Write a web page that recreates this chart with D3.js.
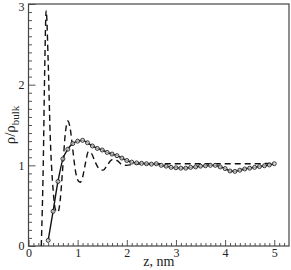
<!DOCTYPE html>
<html>
<head>
<meta charset="utf-8">
<script src="https://cdn.jsdelivr.net/npm/d3@7"></script>
<style>
  body { margin: 0; background: #fff; }
</style>
</head>
<body>
<div id="chart"></div>
<script>
// dashed profile
const dashZ   = [0.26, 0.30, 0.33, 0.36, 0.40, 0.44, 0.50, 0.55, 0.60, 0.65, 0.70, 0.75, 0.80, 0.85, 0.90, 0.95, 1.00, 1.05, 1.10, 1.15, 1.22, 1.28, 1.35, 1.45, 1.52, 1.60, 1.70, 1.80, 1.90, 2.00, 2.10, 2.30, 2.60, 3.00, 3.50, 4.00, 4.50, 4.95];
const dashRho = [0.00, 1.00, 2.20, 2.92, 2.30, 1.40, 0.70, 0.45, 0.42, 0.60, 1.00, 1.40, 1.55, 1.45, 1.20, 0.95, 0.82, 0.79, 0.85, 1.00, 1.17, 1.15, 1.05, 0.95, 0.94, 1.00, 1.07, 1.06, 1.01, 1.00, 1.01, 1.02, 1.02, 1.02, 1.02, 1.02, 1.02, 1.025];

// solid profile with markers
const solidZ   = [0.4, 0.5, 0.6, 0.7, 0.8, 0.9, 1.0, 1.1, 1.2, 1.3, 1.4, 1.5, 1.6, 1.7, 1.8, 1.9, 2.0, 2.1, 2.2, 2.3, 2.4, 2.5, 2.6, 2.7, 2.8, 2.9, 3.0, 3.1, 3.2, 3.3, 3.4, 3.5, 3.6, 3.7, 3.8, 3.9, 4.0, 4.1, 4.2, 4.3, 4.4, 4.5, 4.6, 4.7, 4.8, 4.9, 5.0];
const solidRho = [0.07, 0.43, 0.80, 1.08, 1.20, 1.27, 1.30, 1.31, 1.28, 1.24, 1.21, 1.19, 1.16, 1.14, 1.12, 1.09, 1.06, 1.04, 1.03, 1.025, 1.02, 1.015, 1.02, 1.0, 0.99, 0.975, 0.97, 0.965, 0.965, 0.975, 0.98, 0.99, 0.995, 1.0, 1.0, 0.98, 0.96, 0.93, 0.925, 0.94, 0.955, 0.965, 0.975, 0.985, 0.995, 1.005, 1.02];

const xMajor = [0, 1, 2, 3, 4, 5];
const yMajor = [0, 1, 2, 3];

const serif = "'Liberation Serif', 'Times New Roman', 'DejaVu Serif', serif";

const width = 291, height = 270;
const margin = {left: 28.5, right: 2, top: 4, bottom: 24};

const x = d3.scaleLinear().domain([0, 5.3]).range([margin.left, width - margin.right]);
const y = d3.scaleLinear().domain([0, 3]).range([height - margin.bottom, margin.top]);

const svg = d3.select("#chart").append("svg")
    .attr("width", width)
    .attr("height", height);

// minor ticks
const xMinor = d3.range(0, 53).map(d => d / 10).filter(d => !xMajor.includes(d));
const yMinor = d3.range(0, 30).map(d => d / 10).filter(d => !yMajor.includes(d));

const xAxisMinor = d3.axisBottom(x).tickValues(xMinor).tickSize(-3).tickFormat("");
const xAxis = d3.axisBottom(x).tickValues(xMajor).tickSize(-6).tickPadding(4).tickFormat(d3.format("d"));
const yAxisMinor = d3.axisLeft(y).tickValues(yMinor).tickSize(-3.5).tickFormat("");
const yAxis = d3.axisLeft(y).tickValues(yMajor).tickSize(-7).tickPadding(4).tickFormat(d3.format("d"));

function styleAxis(g) {
  g.attr("font-family", serif);
  g.select(".domain").remove();
  g.selectAll("line").attr("stroke", "#555");
  g.selectAll("text").attr("font-size", 12).attr("fill", "#222");
}

svg.append("g").attr("transform", `translate(0,${y(0)})`).call(xAxisMinor).call(styleAxis);
svg.append("g").attr("transform", `translate(0,${y(0)})`).call(xAxis).call(styleAxis)
  .selectAll("text").attr("dy", "0.6em");
svg.append("g").attr("transform", `translate(${x(0)},0)`).call(yAxisMinor).call(styleAxis);
svg.append("g").attr("transform", `translate(${x(0)},0)`).call(yAxis).call(styleAxis)
  .selectAll("text").attr("dy", (d, i) => d === 3 ? "0.55em" : "0.32em");

// frame
svg.append("rect")
    .attr("x", x(0))
    .attr("y", y(3))
    .attr("width", x(5.3) - x(0))
    .attr("height", y(0) - y(3))
    .attr("fill", "none")
    .attr("stroke", "#444")
    .attr("stroke-width", 1.2);

svg.append("clipPath").attr("id", "clip").append("rect")
    .attr("x", x(0)).attr("y", y(3))
    .attr("width", x(5.3) - x(0)).attr("height", y(0) - y(3));

const line = d3.line().x(d => x(d[0])).y(d => y(d[1])).curve(d3.curveMonotoneX);

const dashData = dashZ.map((z, i) => [z, dashRho[i]]);
const solidData = solidZ.map((z, i) => [z, solidRho[i]]);

svg.append("path")
    .datum(dashData)
    .attr("clip-path", "url(#clip)")
    .attr("d", line)
    .attr("fill", "none")
    .attr("stroke", "#111")
    .attr("stroke-width", 1.4)
    .attr("stroke-dasharray", "6,4");

svg.append("path")
    .datum(solidData)
    .attr("d", line)
    .attr("fill", "none")
    .attr("stroke", "#111")
    .attr("stroke-width", 1.4);

svg.selectAll("circle.pt")
  .data(solidData)
  .enter()
    .append("circle")
    .classed("pt", true)
    .attr("cx", d => x(d[0]))
    .attr("cy", d => y(d[1]))
    .attr("r", 2)
    .attr("fill", "#ddd")
    .attr("fill-opacity", 0.7)
    .attr("stroke", "#222")
    .attr("stroke-width", 0.9);

// axis labels
svg.append("text")
    .attr("x", (x(0) + x(5.3)) / 2)
    .attr("y", 266)
    .attr("text-anchor", "middle")
    .attr("font-family", serif)
    .attr("font-size", 14)
    .attr("fill", "#222")
    .text("z, nm");

const yl = svg.append("text")
    .attr("transform", `translate(15,${(y(0) + y(3)) / 2}) rotate(-90)`)
    .attr("text-anchor", "middle")
    .attr("font-family", serif)
    .attr("font-size", 15)
    .attr("fill", "#222");
yl.append("tspan").text("ρ/ρ");
yl.append("tspan").attr("dy", 4).attr("font-size", 11).text("bulk");
</script>
</body>
</html>
